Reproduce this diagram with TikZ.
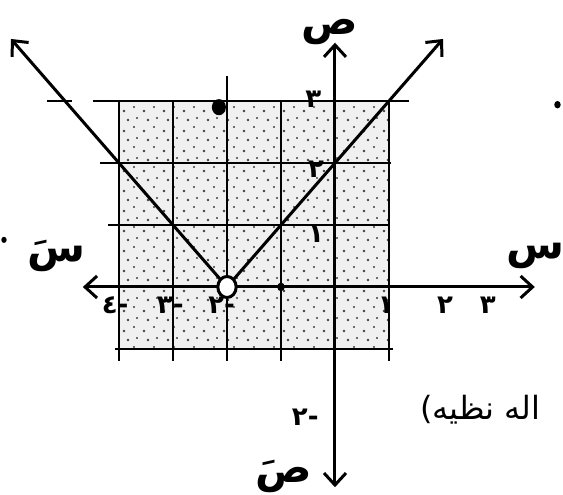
\documentclass[tikz,border=0pt]{standalone}
\usepackage{fontspec}
\newfontfamily\arabicfont[Script=Arabic]{DejaVu Sans}
\TeXXeTstate=1
\usetikzlibrary{arrows.meta,patterns.meta}

\tikzdeclarepattern{
  name=stipple,
  type=uncolored,
  bottom left={(-.1pt,-.1pt)},
  top right={(10.1pt,10.1pt)},
  tile size={(10pt,10pt)},
  code={
    \fill (2pt,2pt) circle (.7pt);
    \fill (7pt,4pt) circle (.6pt);
    \fill (4pt,7.5pt) circle (.7pt);
    \fill (8.5pt,8.5pt) circle (.55pt);
  }
}

\begin{document}
\begin{tikzpicture}[x=27pt,y=31pt,
    axis/.style={line width=1.5pt,{Straight Barb[length=6pt,width=11pt,line width=1.5pt]}-{Straight Barb[length=6pt,width=11pt,line width=1.5pt]}},
    graph/.style={line width=1.5pt,-{Straight Barb[length=6pt,width=11pt,line width=1.5pt]}},
    gridline/.style={line width=1.2pt},
    digit/.style={font=\arabicfont\bfseries\fontsize{13}{15}\selectfont},
    axlabel/.style={font=\arabicfont\bfseries\fontsize{21}{24}\selectfont},
    note/.style={font=\arabicfont\fontsize{16}{20}\selectfont}]
    \useasboundingbox (-335/54,-208/62) rectangle (228/54,287/62);
    % shaded region
    \fill[black!6] (-4,-1) rectangle (1,3);
    \fill[pattern=stipple,pattern color=black!75] (-4,-1) rectangle (1,3);
    % grid
    \draw[gridline] (-4.48,3) -- (1.37,3);
    \draw[gridline] (-5.33,3) -- (-4.87,3);
    \draw[gridline] (-4.35,2) -- (1.04,2);
    \draw[gridline] (-4.2,1) -- (0.98,1);
    \draw[gridline] (-4.07,-1) -- (1.07,-1);
    \foreach \x in {-4,-3,-1,1}
      \draw[gridline] (\x,3) -- (\x,-1.2);
    \draw[gridline] (-2,3.4) -- (-2,-1.2);
    % axes
    \draw[axis] (-4.67,0) -- (3.7,0);
    \draw[axis] (0,-3.23) -- (0,3.94);
    \node[axlabel] (xplus) at (3.72,0.5) {\beginR س\endR};
    \node[axlabel] (xminus) at (-5.15,0.5) {\beginR سَ\endR};
    \node[axlabel] (yplus) at (-0.1,4.12) {\beginR ص\endR};
    \node[axlabel] (yminus) at (-0.95,-3.05) {\beginR صَ\endR};
    % tick labels
    \node[digit] (xm4) at (-4.07,-0.3) {-٤};
    \node[digit] (xm3) at (-3.05,-0.3) {-٣};
    \node[digit] (xm2) at (-2.1,-0.3) {-٢};
    \node[digit] (x1) at (0.94,-0.3) {١};
    \node[digit] (x2) at (2.04,-0.3) {٢};
    \node[digit] (x3) at (2.83,-0.3) {٣};
    \node[digit] (y3) at (-0.4,3.03) {٣};
    \node[digit] (y2) at (-0.35,1.9) {٢};
    \node[digit] (y1) at (-0.35,0.85) {١};
    \node[digit] (ym2) at (-0.55,-2.1) {-٢};
    % graph y = |x+2|
    \draw[graph] (-2,0) -- (2,4);
    \draw[graph] (-2,0) -- (-6,4);
    \draw[line width=1.5pt,fill=white] (-2,0) circle (0.17);
    \fill (-2.15,2.9) circle (0.13);
    \fill (-1,0) circle (0.07);
    \fill (4.12,2.94) circle (0.06);
    \fill (-6.13,0.76) circle (0.05);
    \node[note,anchor=west,inner sep=0pt] (remark) at (1.57,-1.98) {\beginR اله نظيه)\endR};
\end{tikzpicture}
\end{document}
